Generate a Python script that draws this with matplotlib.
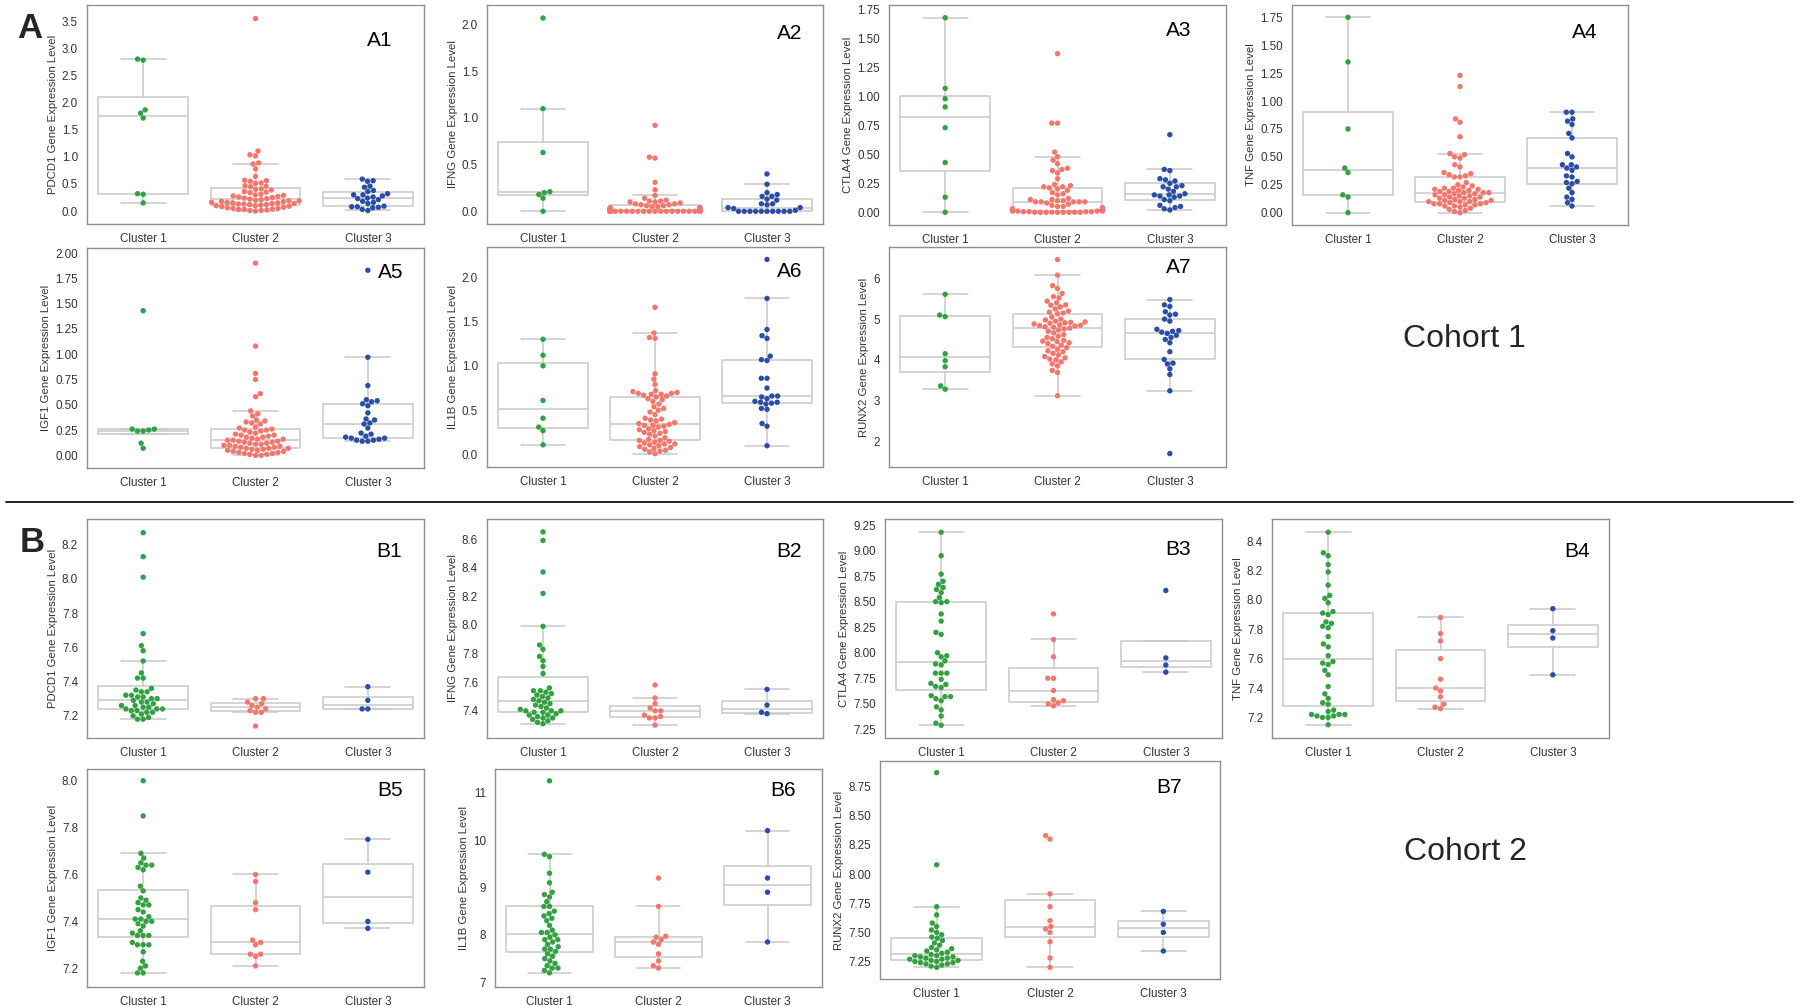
import matplotlib
matplotlib.use("Agg")
import matplotlib.pyplot as plt
import seaborn as sns
from matplotlib.lines import Line2D

CLUSTERS = ["Cluster 1", "Cluster 2", "Cluster 3"]
GENES = ["PDCD1", "IFNG", "CTLA4", "TNF", "IGF1", "IL1B", "RUNX2"]

# ---- cohort 1 (A panels) ----
a1_c1 = [2.81, 2.79, 1.87, 1.81, 1.72, 0.32, 0.31, 0.15]
a1_c2 = [3.56, 1.11, 1.04, 1.02, 0.89, 0.87, 0.78, 0.64, 0.57, 0.56, 0.55, 0.52, 0.51, 0.47, 0.46, 0.45,
         0.41, 0.40, 0.39, 0.36, 0.35, 0.34, 0.31, 0.30, 0.29, 0.28, 0.27, 0.26, 0.25, 0.24, 0.23, 0.22,
         0.21, 0.20, 0.19, 0.19, 0.18, 0.17, 0.16, 0.16, 0.15, 0.15, 0.14, 0.14, 0.13, 0.13, 0.12, 0.12,
         0.11, 0.10, 0.10, 0.09, 0.08, 0.07, 0.06, 0.05, 0.05, 0.04, 0.03, 0.03, 0.02, 0.01, 0.01, 0.00]
a1_c3 = [0.59, 0.56, 0.55, 0.46, 0.44, 0.38, 0.36, 0.32, 0.30, 0.30, 0.28, 0.26, 0.24, 0.23, 0.21, 0.18,
         0.16, 0.14, 0.09, 0.08, 0.08, 0.07, 0.06, 0.03, 0.01]

a2_c1 = [2.07, 1.10, 0.63, 0.21, 0.20, 0.18, 0.14, 0.00]
a2_c2 = [0.92, 0.58, 0.57, 0.31, 0.23, 0.17, 0.14, 0.12, 0.11, 0.11, 0.10, 0.10, 0.09, 0.08, 0.08, 0.07,
         0.07, 0.06, 0.06, 0.05, 0.05, 0.04, 0.04, 0.04, 0.03, 0.03, 0.03, 0.02, 0.02, 0.02, 0.02, 0.01,
         0.01, 0.01, 0.01, 0.01, 0.005, 0.005, 0.005, 0.005, 0.005, 0.005,
         0.0, 0.0, 0.0, 0.0, 0.0, 0.0, 0.0, 0.0, 0.0, 0.0, 0.0, 0.0, 0.0, 0.0, 0.0, 0.0, 0.0, 0.0, 0.0,
         0.0, 0.0, 0.0]
a2_c3 = [0.40, 0.29, 0.20, 0.18, 0.16, 0.16, 0.13, 0.12, 0.08, 0.08, 0.07, 0.04, 0.04, 0.03, 0.01,
         0.0, 0.0, 0.0, 0.0, 0.0, 0.0, 0.0, 0.0, 0.0, 0.0]

a3_c1 = [1.68, 1.07, 0.98, 0.91, 0.73, 0.43, 0.13, 0.00]
a3_c2 = [1.37, 0.77, 0.77, 0.52, 0.48, 0.45, 0.42, 0.38, 0.37, 0.36, 0.34, 0.29, 0.24, 0.23, 0.22, 0.22,
         0.21, 0.20, 0.19, 0.17, 0.16, 0.15, 0.12, 0.11, 0.11, 0.10, 0.10, 0.09, 0.09, 0.09, 0.09, 0.09,
         0.08, 0.07, 0.06, 0.05, 0.05, 0.04, 0.03, 0.03, 0.03, 0.02, 0.02, 0.02, 0.02, 0.02, 0.02, 0.01,
         0.01, 0.01, 0.01, 0.005, 0.005, 0.005, 0.005, 0.0, 0.0, 0.0, 0.0, 0.0, 0.0, 0.0, 0.0, 0.0]
a3_c3 = [0.67, 0.37, 0.36, 0.29, 0.28, 0.27, 0.25, 0.23, 0.22, 0.22, 0.20, 0.18, 0.16, 0.15, 0.15, 0.14,
         0.14, 0.13, 0.11, 0.10, 0.06, 0.05, 0.04, 0.03, 0.02]

a4_c1 = [1.75, 1.35, 0.75, 0.40, 0.36, 0.16, 0.14, 0.00]
a4_c2 = [1.23, 1.13, 0.84, 0.81, 0.68, 0.53, 0.52, 0.50, 0.49, 0.43, 0.41, 0.36, 0.35, 0.34, 0.33, 0.32,
         0.32, 0.27, 0.25, 0.24, 0.23, 0.22, 0.22, 0.21, 0.21, 0.20, 0.20, 0.19, 0.19, 0.18, 0.18, 0.18,
         0.17, 0.17, 0.16, 0.16, 0.15, 0.15, 0.14, 0.14, 0.13, 0.13, 0.12, 0.12, 0.11, 0.11, 0.10, 0.10,
         0.10, 0.09, 0.09, 0.08, 0.08, 0.08, 0.07, 0.07, 0.06, 0.06, 0.05, 0.04, 0.03, 0.02, 0.01, 0.00]
a4_c3 = [0.90, 0.90, 0.84, 0.82, 0.79, 0.71, 0.67, 0.53, 0.50, 0.43, 0.43, 0.41, 0.40, 0.38, 0.33, 0.32,
         0.28, 0.27, 0.26, 0.22, 0.18, 0.14, 0.12, 0.09, 0.06]

a5_c1 = [1.43, 0.26, 0.26, 0.25, 0.24, 0.24, 0.12, 0.07]
a5_c2 = [1.90, 1.08, 0.81, 0.75, 0.61, 0.58, 0.44, 0.41, 0.39, 0.35, 0.34, 0.33, 0.32, 0.31, 0.28, 0.27,
         0.26, 0.25, 0.25, 0.24, 0.23, 0.22, 0.21, 0.20, 0.20, 0.19, 0.18, 0.18, 0.17, 0.16, 0.16, 0.15,
         0.15, 0.14, 0.14, 0.13, 0.13, 0.12, 0.12, 0.11, 0.11, 0.10, 0.10, 0.09, 0.09, 0.08, 0.08, 0.07,
         0.07, 0.07, 0.06, 0.06, 0.05, 0.05, 0.04, 0.04, 0.03, 0.03, 0.02, 0.02, 0.01, 0.01, 0.00, 0.00]
a5_c3 = [1.83, 0.97, 0.69, 0.55, 0.54, 0.53, 0.51, 0.49, 0.42, 0.36, 0.35, 0.32, 0.31, 0.27, 0.22, 0.21,
         0.19, 0.18, 0.17, 0.17, 0.16, 0.15, 0.15, 0.14, 0.14]

a6_c1 = [1.30, 1.12, 1.00, 0.61, 0.41, 0.31, 0.27, 0.11]
a6_c2 = [1.66, 1.37, 1.32, 1.31, 0.91, 0.85, 0.79, 0.72, 0.71, 0.70, 0.69, 0.69, 0.68, 0.68, 0.67, 0.66,
         0.65, 0.63, 0.62, 0.60, 0.57, 0.54, 0.52, 0.50, 0.48, 0.45, 0.41, 0.40, 0.39, 0.38, 0.36, 0.35,
         0.34, 0.33, 0.33, 0.32, 0.31, 0.29, 0.28, 0.27, 0.26, 0.25, 0.24, 0.23, 0.21, 0.19, 0.17, 0.16,
         0.16, 0.15, 0.14, 0.13, 0.12, 0.12, 0.11, 0.10, 0.09, 0.08, 0.07, 0.06, 0.05, 0.04, 0.03, 0.01]
a6_c3 = [2.20, 1.76, 1.41, 1.34, 1.31, 1.11, 1.07, 1.06, 0.86, 0.86, 0.75, 0.66, 0.66, 0.65, 0.63, 0.60,
         0.59, 0.59, 0.58, 0.57, 0.52, 0.51, 0.35, 0.32, 0.10]

a7_c1 = [5.61, 5.10, 5.06, 4.15, 3.98, 3.83, 3.36, 3.28]
a7_c2 = [6.46, 6.08, 5.82, 5.75, 5.63, 5.55, 5.52, 5.44, 5.40, 5.35, 5.34, 5.30, 5.25, 5.20, 5.17, 5.15,
         5.13, 5.05, 5.00, 4.98, 4.95, 4.93, 4.92, 4.91, 4.90, 4.88, 4.86, 4.85, 4.84, 4.83, 4.81, 4.80,
         4.78, 4.76, 4.73, 4.70, 4.66, 4.62, 4.58, 4.55, 4.52, 4.48, 4.46, 4.45, 4.42, 4.40, 4.36, 4.33,
         4.30, 4.26, 4.22, 4.20, 4.16, 4.12, 4.08, 4.05, 4.02, 4.00, 3.95, 3.90, 3.85, 3.74, 3.69, 3.12]
a7_c3 = [5.48, 5.35, 5.31, 5.18, 5.12, 5.10, 5.00, 4.95, 4.75, 4.72, 4.70, 4.68, 4.65, 4.60, 4.55, 4.50,
         4.42, 4.20, 4.01, 3.92, 3.90, 3.78, 3.64, 3.24, 1.70]

# ---- cohort 2 (B panels) ----
b1_c1 = [8.27, 8.13, 8.01, 7.68, 7.61, 7.58, 7.52, 7.45, 7.42, 7.42, 7.36, 7.35, 7.34, 7.34, 7.32, 7.32,
         7.31, 7.31, 7.30, 7.30, 7.29, 7.28, 7.28, 7.27, 7.26, 7.26, 7.25, 7.25, 7.24, 7.24, 7.24, 7.23,
         7.23, 7.22, 7.22, 7.21, 7.20, 7.19, 7.18, 7.18]
b1_c2 = [7.30, 7.30, 7.28, 7.27, 7.26, 7.25, 7.24, 7.23, 7.22, 7.22, 7.14]
b1_c3 = [7.37, 7.29, 7.24, 7.24]

b2_c1 = [8.65, 8.59, 8.37, 8.22, 7.99, 7.86, 7.83, 7.78, 7.75, 7.71, 7.66, 7.56, 7.54, 7.54, 7.53, 7.52,
         7.51, 7.50, 7.49, 7.48, 7.47, 7.46, 7.45, 7.44, 7.43, 7.42, 7.41, 7.40, 7.40, 7.40, 7.39, 7.39,
         7.38, 7.37, 7.37, 7.36, 7.35, 7.35, 7.34, 7.33, 7.32, 7.31]
b2_c2 = [7.58, 7.49, 7.45, 7.42, 7.40, 7.40, 7.37, 7.36, 7.35, 7.35, 7.30]
b2_c3 = [7.55, 7.44, 7.39, 7.38]

b3_c1 = [9.18, 8.95, 8.77, 8.70, 8.67, 8.64, 8.62, 8.59, 8.54, 8.50, 8.50, 8.49, 8.38, 8.31, 8.20, 8.18,
         8.00, 7.97, 7.96, 7.92, 7.89, 7.88, 7.80, 7.80, 7.80, 7.74, 7.70, 7.69, 7.67, 7.66, 7.58, 7.57,
         7.57, 7.55, 7.53, 7.47, 7.44, 7.38, 7.31, 7.29]
b3_c2 = [8.38, 8.13, 7.96, 7.75, 7.75, 7.63, 7.54, 7.53, 7.51, 7.50, 7.48]
b3_c3 = [8.61, 7.95, 7.88, 7.81]

b4_c1 = [8.46, 8.32, 8.30, 8.24, 8.19, 8.10, 8.03, 8.01, 7.98, 7.92, 7.91, 7.90, 7.85, 7.84, 7.82, 7.81,
         7.75, 7.70, 7.68, 7.62, 7.58, 7.57, 7.56, 7.52, 7.49, 7.41, 7.36, 7.33, 7.30, 7.29, 7.25, 7.24,
         7.22, 7.22, 7.22, 7.21, 7.21, 7.20, 7.20, 7.15]
b4_c2 = [7.88, 7.77, 7.72, 7.60, 7.46, 7.40, 7.38, 7.34, 7.29, 7.27, 7.26]
b4_c3 = [7.94, 7.79, 7.74, 7.49]

b5_c1 = [8.00, 7.85, 7.69, 7.67, 7.65, 7.64, 7.64, 7.63, 7.62, 7.55, 7.53, 7.50, 7.49, 7.48, 7.47, 7.47,
         7.45, 7.44, 7.42, 7.41, 7.41, 7.40, 7.40, 7.39, 7.38, 7.36, 7.35, 7.34, 7.34, 7.34, 7.31, 7.30,
         7.30, 7.30, 7.27, 7.23, 7.21, 7.20, 7.18, 7.18]
b5_c2 = [7.60, 7.57, 7.48, 7.45, 7.32, 7.31, 7.30, 7.26, 7.26, 7.25, 7.21]
b5_c3 = [7.75, 7.61, 7.40, 7.37]

b6_c1 = [11.25, 9.70, 9.65, 9.30, 9.10, 8.90, 8.85, 8.80, 8.70, 8.60, 8.60, 8.50, 8.45, 8.40, 8.35, 8.30,
         8.20, 8.10, 8.05, 8.05, 8.00, 7.95, 7.90, 7.90, 7.85, 7.80, 7.75, 7.70, 7.70, 7.65, 7.60, 7.55,
         7.50, 7.45, 7.40, 7.35, 7.30, 7.30, 7.25, 7.20]
b6_c2 = [9.20, 8.60, 7.97, 7.95, 7.90, 7.85, 7.80, 7.60, 7.45, 7.35, 7.30]
b6_c3 = [10.20, 9.20, 8.90, 7.85]

b7_c1 = [8.87, 8.08, 7.72, 7.65, 7.58, 7.55, 7.52, 7.50, 7.48, 7.46, 7.45, 7.43, 7.41, 7.39, 7.37, 7.36,
         7.35, 7.34, 7.33, 7.32, 7.31, 7.30, 7.30, 7.29, 7.29, 7.28, 7.28, 7.27, 7.27, 7.26, 7.26, 7.25,
         7.25, 7.24, 7.24, 7.23, 7.23, 7.22, 7.21, 7.20]
b7_c2 = [8.33, 8.30, 7.83, 7.72, 7.60, 7.55, 7.53, 7.50, 7.42, 7.28, 7.20]
b7_c3 = [7.68, 7.57, 7.50, 7.34]

COHORT1 = [(a1_c1, a1_c2, a1_c3), (a2_c1, a2_c2, a2_c3), (a3_c1, a3_c2, a3_c3), (a4_c1, a4_c2, a4_c3),
           (a5_c1, a5_c2, a5_c3), (a6_c1, a6_c2, a6_c3), (a7_c1, a7_c2, a7_c3)]
COHORT2 = [(b1_c1, b1_c2, b1_c3), (b2_c1, b2_c2, b2_c3), (b3_c1, b3_c2, b3_c3), (b4_c1, b4_c2, b4_c3),
           (b5_c1, b5_c2, b5_c3), (b6_c1, b6_c2, b6_c3), (b7_c1, b7_c2, b7_c3)]

# layout (pixel boxes on the 1800x1006 canvas: left, top, right, bottom)
W, H = 1800, 1006
BOXES_A = [(87, 5, 424, 224), (487, 5, 823, 224), (889, 5, 1226, 225), (1292, 5, 1628, 225),
           (87, 248, 424, 468), (487, 247, 823, 467), (889, 247, 1226, 467)]
BOXES_B = [(87, 519, 424, 738), (487, 519, 823, 738), (885, 519, 1222, 738), (1272, 519, 1609, 738),
           (87, 769, 424, 987), (495, 769, 822, 987), (880, 761, 1220, 979)]
YLIM_A = [(-0.24, 3.81), (-0.136, 2.21), (-0.11, 1.79), (-0.11, 1.86), (-0.125, 2.05), (-0.14, 2.34), (1.37, 6.77)]
YLIM_B = [(7.07, 8.35), (7.21, 8.74), (7.165, 9.31), (7.06, 8.55), (7.12, 8.05), (6.9, 11.5), (7.1, 8.97)]
# panel tag positions in axes fractions
TAG_A = [(0.87, 0.84), (0.90, 0.87), (0.86, 0.885), (0.87, 0.875), (0.90, 0.89), (0.90, 0.89), (0.86, 0.905)]
TAG_B = [(0.895, 0.85), (0.90, 0.85), (0.87, 0.86), (0.905, 0.85), (0.90, 0.90), (0.88, 0.90), (0.85, 0.88)]

PALETTE = ["#33a041", "#f3776c", "#2a4ea4"]
BOX_GREY = "#c9c9c9"
SPINE_GREY = "#8f8f8f"

sns.set_style("white")
plt.rcParams["font.family"] = ["Liberation Sans", "DejaVu Sans"]

fig = plt.figure(figsize=(18, 10.06), dpi=100)


def px_rect(box):
    l, t, r, b = box
    return [l / W, 1 - b / H, (r - l) / W, (b - t) / H]


def draw_panel(box, groups, gene, tag, tag_xy, ylim):
    ax = fig.add_axes(px_rect(box))
    ax.set_ylim(*ylim)
    line = dict(color=BOX_GREY, linewidth=1.1)
    ax.boxplot(list(groups), positions=[0, 1, 2], widths=0.8, whis=1.5, showfliers=False,
               patch_artist=True, manage_ticks=False, zorder=1,
               boxprops=dict(facecolor="white", edgecolor=BOX_GREY, linewidth=1.1),
               whiskerprops=line, capprops=line, medianprops=line)
    xs = [c for c, g in zip(CLUSTERS, groups) for _ in g]
    ys = [v for g in groups for v in g]
    sns.swarmplot(x=xs, y=ys, hue=xs, order=CLUSTERS, hue_order=CLUSTERS, palette=PALETTE,
                  size=3.9, legend=False, ax=ax, zorder=3, linewidth=0)
    ax.set_ylim(*ylim)
    ax.set_xlim(-0.5, 2.5)
    ax.set_xticks([0, 1, 2])
    ax.set_xticklabels(CLUSTERS)
    ax.tick_params(labelsize=8.4, colors="#333333", pad=3)
    ax.set_ylabel(f"{gene} Gene Expression Level", fontsize=8.2, color="#333333", labelpad=3)
    ax.set_xlabel("")
    for sp in ax.spines.values():
        sp.set_color(SPINE_GREY)
        sp.set_linewidth(1.0)
    ax.text(tag_xy[0], tag_xy[1], tag, transform=ax.transAxes, fontsize=15,
            ha="center", va="center", color="black")


for i, gene in enumerate(GENES):
    draw_panel(BOXES_A[i], COHORT1[i], gene, f"A{i + 1}", TAG_A[i], YLIM_A[i])
    draw_panel(BOXES_B[i], COHORT2[i], gene, f"B{i + 1}", TAG_B[i], YLIM_B[i])

fig.text(30 / W, 1 - 29 / H, "A", fontsize=25, fontweight="bold", ha="center", va="center")
fig.text(32 / W, 1 - 542 / H, "B", fontsize=25, fontweight="bold", ha="center", va="center")
fig.text(1464 / W, 1 - 339 / H, "Cohort 1", fontsize=23, ha="center", va="center")
fig.text(1466 / W, 1 - 852 / H, "Cohort 2", fontsize=23, ha="center", va="center")
fig.add_artist(Line2D([6 / W, 1793 / W], [1 - 502 / H, 1 - 502 / H], color="black", linewidth=1.2))

fig.savefig("out.png", dpi=100)
